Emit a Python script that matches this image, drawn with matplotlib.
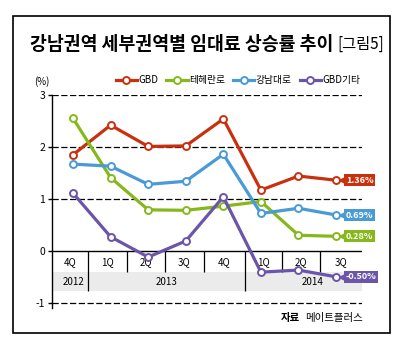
import matplotlib
matplotlib.use("Agg")
import matplotlib.pyplot as plt
from matplotlib.patches import Rectangle
from matplotlib.lines import Line2D
from matplotlib.transforms import offset_copy

plt.rcParams['font.family'] = ['Noto Sans CJK KR', 'DejaVu Sans']

quarters = ["4Q", "1Q", "2Q", "3Q", "4Q", "1Q", "2Q", "3Q"]
years = ["2012", "2013", "2014"]
year_pos = [0, 2.5, 6.38]

gbd = [1.85, 2.42, 2.01, 2.02, 2.54, 1.17, 1.44, 1.36]
teheran = [2.55, 1.41, 0.79, 0.78, 0.86, 0.95, 0.30, 0.28]
gangnam = [1.67, 1.63, 1.28, 1.34, 1.86, 0.72, 0.82, 0.69]
gbd_etc = [1.11, 0.27, -0.12, 0.19, 1.04, -0.41, -0.37, -0.50]

names = ["GBD", "테헤란로", "강남대로", "GBD기타"]
colors = ["#c9310e", "#86b81c", "#4a9ad6", "#6b55a8"]
end_labels = ["1.36%", "0.28%", "0.69%", "-0.50%"]

fig = plt.figure(figsize=(4.15, 3.47), dpi=100)
W, H = 415, 347

# frame around the whole graphic
fig.patches.append(Rectangle((13 / W, 1 - 333 / H), 377 / W, 317 / H,
                             transform=fig.transFigure, fill=False,
                             edgecolor='black', linewidth=1.2))

ax = fig.add_axes([52 / W, 1 - 308 / H, 310 / W, 213 / H])
x = list(range(len(quarters)))
x0, x1 = -0.56, 7.69

# column edges of the quarter table (points are not centred in the columns)
edges = [x0, 0.40, 1.44, 2.45, 3.48, 4.57, 5.56, 6.57, x1]

# grid
for v in [3, 2, 1, -1]:
    ax.plot([x0, x1], [v, v], color='black', linestyle=(0, (5, 2)), linewidth=0.9, zorder=1)
ax.plot([x0, x1], [0, 0], color='black', linewidth=1.0, zorder=1)

# table under zero line
ax.fill_between([x0, x1], -0.4, -0.78, color='#ebebeb', linewidth=0, zorder=0)
ax.vlines([edges[1], edges[5]], -0.78, 0, color='black', linewidth=0.9, zorder=1)
ax.vlines([edges[i] for i in (2, 3, 4, 6, 7)], -0.4, 0, color='black', linewidth=0.9, zorder=1)
for i, q in enumerate(quarters):
    ax.text((edges[i] + edges[i + 1]) / 2, -0.22, q, ha='center', va='center', fontsize=7, zorder=2)
for p, yr in zip(year_pos, years):
    ax.text(p, -0.6, yr, ha='center', va='center', fontsize=7, zorder=2)

series = [gbd, teheran, gangnam, gbd_etc]
order = [1, 2, 0, 3]
notch = offset_copy(ax.transData, fig=fig, x=6, y=0, units='dots')
for k in order:
    ax.plot(x, series[k], color=colors[k], linewidth=2.3, marker='o', markersize=5,
            markerfacecolor='white', markeredgecolor=colors[k], markeredgewidth=1.4,
            zorder=3 + k, label=names[k])
    ax.plot([7], [series[k][-1]], marker='<', markersize=5, color=colors[k],
            linestyle='none', transform=notch, clip_on=False, zorder=10)
    ax.annotate(end_labels[k], xy=(7, series[k][-1]), xytext=(7, 0),
                textcoords='offset points', ha='left', va='center',
                fontsize=6.5, fontweight='bold', color='white',
                bbox=dict(boxstyle='square,pad=0.15', fc=colors[k], ec='none'),
                annotation_clip=False, zorder=10)

ax.set_xlim(x0, x1)
ax.set_ylim(-1.1, 3.0)
ax.set_yticks([3, 2, 1, 0, -1])
ax.set_yticklabels(["3", "2", "1", "0", "-1"])
ax.set_xticks([])
for s in ["top", "right", "bottom"]:
    ax.spines[s].set_visible(False)
ax.spines["left"].set_linewidth(1.0)
ax.tick_params(axis='y', length=3, width=1.0, labelsize=7.5, pad=2)

# legend
handles = [Line2D([], [], color=colors[k], linewidth=2.3, marker='o', markersize=5,
                  markerfacecolor='white', markeredgecolor=colors[k], markeredgewidth=1.4)
           for k in range(4)]
fig.legend(handles, names, loc='center', bbox_to_anchor=(238 / W, 1 - 80 / H), ncol=4,
           frameon=False, fontsize=7, handlelength=2.2, handletextpad=0.15,
           columnspacing=0.8)

fig.text(42 / W, 1 - 82 / H, "(%)", ha='center', va='center', fontsize=7)

fig.text(30 / W, 1 - 44 / H, "강남권역 세부권역별 임대료 상승률 추이", ha='left', va='center',
         fontsize=13.2, fontweight='heavy')
fig.text(337 / W, 1 - 44 / H, "[그림5]", ha='left', va='center', fontsize=11)

fig.text(300 / W, 1 - 318 / H, "자료", ha='right', va='center', fontsize=7.5, fontweight='bold')
fig.text(363 / W, 1 - 318 / H, "메이트플러스", ha='right', va='center', fontsize=7.5)

fig.savefig("out.png", dpi=100)
